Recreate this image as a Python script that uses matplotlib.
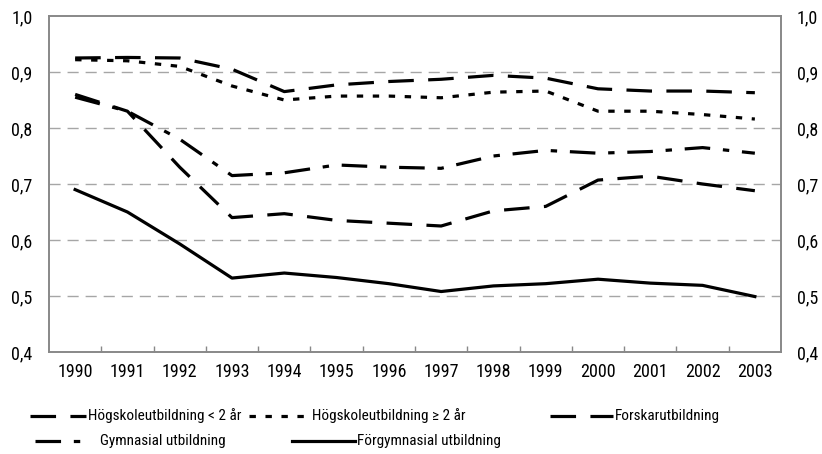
import matplotlib
matplotlib.use("Agg")
import matplotlib.pyplot as plt
from matplotlib.lines import Line2D
from matplotlib.ticker import FixedLocator, FuncFormatter

plt.rcParams['font.family'] = ['Roboto Condensed', 'Archivo Narrow', 'DejaVu Sans Condensed', 'DejaVu Sans']

years = [str(y) for y in range(1990, 2004)]

forskar = [0.925, 0.926, 0.925, 0.905, 0.865, 0.877, 0.883, 0.887, 0.894, 0.889, 0.870, 0.866, 0.866, 0.863]
hogskola_ge2 = [0.922, 0.920, 0.910, 0.875, 0.850, 0.857, 0.857, 0.854, 0.864, 0.866, 0.830, 0.830, 0.824, 0.816]
gymnasial = [0.855, 0.830, 0.780, 0.715, 0.720, 0.734, 0.730, 0.728, 0.750, 0.760, 0.755, 0.758, 0.765, 0.755]
hogskola_lt2 = [0.860, 0.830, 0.730, 0.640, 0.647, 0.635, 0.630, 0.625, 0.652, 0.660, 0.707, 0.714, 0.700, 0.688]
forgymnasial = [0.690, 0.650, 0.593, 0.532, 0.541, 0.533, 0.522, 0.508, 0.518, 0.522, 0.530, 0.523, 0.519, 0.499]

LW = 2.3
LONG = (0, (8, 4.5))
SHORT = (0, (2, 3))
DASHDOT = (0, (8, 4, 2, 4))

fig = plt.figure(figsize=(8.22, 4.54), dpi=100)
ax = fig.add_axes([49 / 822, 1 - 352 / 454, (781 - 49) / 822, (352 - 16) / 454])

x = list(range(len(years)))
ax.plot(x, forskar, color='black', lw=LW, linestyle=LONG)
ax.plot(x, hogskola_ge2, color='black', lw=LW, linestyle=SHORT)
ax.plot(x, gymnasial, color='black', lw=LW, linestyle=DASHDOT)
ax.plot(x, hogskola_lt2, color='black', lw=LW, linestyle=LONG)
ax.plot(x, forgymnasial, color='black', lw=LW, linestyle='-')

ax.set_xlim(-0.5, len(years) - 0.5)
ax.set_ylim(0.4, 1.0)
yt = [0.4, 0.5, 0.6, 0.7, 0.8, 0.9, 1.0]
fmt = FuncFormatter(lambda v, p: f"{v:.1f}".replace('.', ','))

# dashed grey gridlines (not at the frame edges)
for v in yt[1:-1]:
    ax.axhline(v, color='#a6a6a6', lw=1, linestyle=(0, (8, 5)), zorder=0)

ax.set_xticks(x)
ax.set_xticklabels(years, fontsize=13)
ax.xaxis.set_minor_locator(FixedLocator([i + 0.5 for i in range(len(years) - 1)]))
ax.tick_params(axis='x', which='major', length=0, pad=8)
ax.tick_params(axis='x', which='minor', direction='in', length=4, color='#888888', width=1)
ax.set_yticks(yt)
ax.yaxis.set_major_formatter(fmt)
ax.tick_params(axis='y', length=0, pad=12, labelsize=13)

ax2 = ax.twinx()
ax2.set_ylim(0.4, 1.0)
ax2.set_yticks(yt)
ax2.yaxis.set_major_formatter(fmt)
ax2.tick_params(axis='y', length=0, pad=11.5, labelsize=13)

for a in (ax, ax2):
    for s in a.spines.values():
        s.set_color('#888888')
        s.set_linewidth(1.2)

# legend, drawn by hand like the Excel layout
entries = [
    ("Högskoleutbildning < 2 år", LONG, 30, 86, 88, 416),
    ("Högskoleutbildning \u2265 2 år", SHORT, 249, 305, 312, 416),
    ("Forskarutbildning", LONG, 550, 613, 615, 416),
    ("Gymnasial utbildning", DASHDOT, 35, 85, 100, 441),
    ("Förgymnasial utbildning", '-', 292, 355, 357, 441),
]
for label, ls, x0, x1, tx, ty in entries:
    fy = 1 - ty / 454
    fig.add_artist(Line2D([x0 / 822, x1 / 822], [fy, fy], transform=fig.transFigure,
                          color='black', lw=LW, linestyle=ls))
    fig.text(tx / 822, fy, label, fontsize=11, va='center', ha='left')

fig.savefig('out.png', dpi=100)
